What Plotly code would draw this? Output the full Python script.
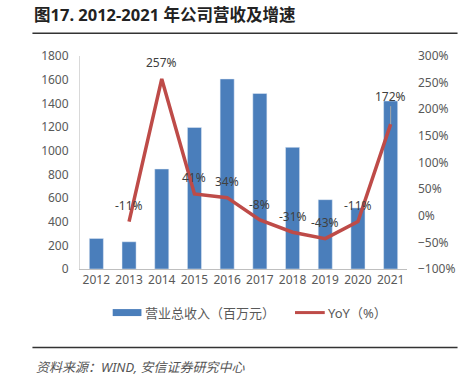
import plotly.graph_objects as go

years = ["2012", "2013", "2014", "2015", "2016", "2017", "2018", "2019", "2020", "2021"]
revenue = [258, 230, 845, 1196, 1606, 1483, 1028, 586, 516, 1420]
yoy_years = ["2013", "2014", "2015", "2016", "2017", "2018", "2019", "2020", "2021"]
yoy = [-11, 257, 41, 34, -8, -31, -43, -11, 172]
yoy_labels = ["-11%", "257%", "41%", "34%", "-8%", "-31%", "-43%", "-11%", "172%"]

BLUE = "#4A7EBB"
RED = "#BE4B48"
FONT = "Noto Sans, Noto Sans CJK SC"
W, H = 467, 385
L, R, T, B = 80, 410, 55.7, 269.3

def px(x):
    return (x - L) / (R - L)

def py(y):
    return (B - y) / (B - T)

fig = go.Figure()
fig.add_trace(go.Bar(x=years, y=revenue, marker_color=BLUE, width=0.43,
                     name="营业总收入（百万元）", showlegend=False, yaxis="y"))
fig.add_trace(go.Scatter(x=yoy_years, y=yoy, mode="lines", line=dict(color=RED, width=3.5),
                         name="YoY（%）", showlegend=False, yaxis="y2"))

annotations = []
last = len(yoy_years) - 1
for i, (xv, yv, t) in enumerate(zip(yoy_years, yoy, yoy_labels)):
    if i == last:
        annotations.append(dict(x=years.index(xv), y=yv, xref="x", yref="y2", text=t, showarrow=True,
                                arrowhead=0, arrowwidth=1, arrowcolor="#A6A6A6", ax=0, ay=-28,
                                standoff=0, font=dict(size=12, color="#404040", family=FONT)))
    else:
        annotations.append(dict(x=years.index(xv), y=yv, xref="x", yref="y2", text=t, showarrow=False,
                                yshift=16, font=dict(size=12, color="#404040", family=FONT)))

# title
annotations.append(dict(x=px(32), y=py(14.5), xref="paper", yref="paper", xanchor="left", yanchor="middle",
                        text="<b>图17. 2012-2021 年公司营收及增速</b>", showarrow=False,
                        font=dict(size=16.5, color="#222222", family=FONT)))
# legend texts
annotations.append(dict(x=px(144), y=py(313), xref="paper", yref="paper", xanchor="left", yanchor="middle",
                        text="营业总收入（百万元）", showarrow=False,
                        font=dict(size=13, color="#595959", family=FONT)))
annotations.append(dict(x=px(328), y=py(313), xref="paper", yref="paper", xanchor="left", yanchor="middle",
                        text="YoY（%）", showarrow=False,
                        font=dict(size=13, color="#595959", family=FONT)))
# source
annotations.append(dict(x=px(34), y=py(368), xref="paper", yref="paper", xanchor="left", yanchor="middle",
                        text="<i>资料来源：WIND, 安信证券研究中心</i>", showarrow=False,
                        font=dict(size=13, color="#555555", family=FONT)))

shapes = [
    dict(type="line", xref="paper", yref="paper", x0=px(32), x1=px(461), y0=py(33), y1=py(33),
         line=dict(color="#333333", width=1.5)),
    dict(type="line", xref="paper", yref="paper", x0=px(32), x1=px(461), y0=py(348), y1=py(348),
         line=dict(color="#333333", width=1.5)),
    dict(type="rect", xref="paper", yref="paper", x0=px(113), x1=px(142), y0=py(316.5), y1=py(309.5),
         fillcolor=BLUE, line=dict(width=0)),
    dict(type="line", xref="paper", yref="paper", x0=px(297), x1=px(327), y0=py(313), y1=py(313),
         line=dict(color=RED, width=3)),
]

fig.update_layout(
    width=W, height=H,
    margin=dict(l=L, r=W - R, t=T, b=H - B),
    paper_bgcolor="white", plot_bgcolor="white",
    font=dict(family=FONT, size=12, color="#595959"),
    showlegend=False,
    xaxis=dict(type="category", categoryorder="array", categoryarray=years, range=[-0.5, 9.5],
               showgrid=False, showline=True, linecolor="#BFBFBF", linewidth=1,
               ticks="", tickfont=dict(size=12, color="#595959")),
    yaxis=dict(range=[0, 1800], dtick=200, showgrid=False, showline=True, linecolor="#D9D9D9",
               zeroline=False, ticks="", tickfont=dict(size=12, color="#595959"), ticklabelstandoff=8),
    yaxis2=dict(range=[-100, 300], dtick=50, overlaying="y", side="right", showgrid=False,
                showline=False, zeroline=False, ticksuffix="%", ticks="",
                tickfont=dict(size=12, color="#595959"), ticklabelstandoff=10),
    annotations=annotations,
    shapes=shapes,
    bargap=0.5,
)

fig.write_html("out.html", config={"displayModeBar": False},
               post_script="document.body.style.margin='0';document.body.style.overflow='hidden';")
